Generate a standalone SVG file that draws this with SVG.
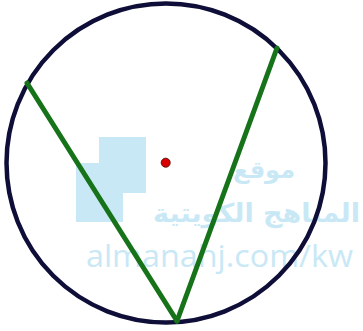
<svg xmlns="http://www.w3.org/2000/svg" width="363" height="331" viewBox="0 0 363 331">
<style>
.wm{fill:#c9e8f6}
.chord{stroke:#17731a;stroke-width:5;stroke-linecap:round;fill:none}
</style>
<rect width="363" height="331" fill="#ffffff"/>
<g id="watermark">
<rect class="wm" x="99" y="137" width="47" height="56"/>
<rect class="wm" x="76" y="163" width="47" height="59"/>
<text class="wm" x="295" y="178" text-anchor="end" font-family="DejaVu Sans, sans-serif" font-weight="bold" font-size="24">موقع</text>
<text class="wm" x="153" y="222" font-family="DejaVu Sans, sans-serif" font-weight="bold" font-size="26" textLength="207" lengthAdjust="spacingAndGlyphs">المناهج الكويتية</text>
<text class="wm" x="86" y="267" font-family="Open Sans, sans-serif" font-size="31" textLength="267" lengthAdjust="spacingAndGlyphs">almanahj.com/kw</text>
</g>
<g id="circle">
<circle cx="166" cy="163" r="159.5" fill="none" stroke="#0e0e38" stroke-width="4.5"/>
</g>
<g id="connectors">
<line class="chord" x1="27" y1="83" x2="177" y2="321"/>
<line class="chord" x1="277" y1="48" x2="177" y2="321"/>
</g>
<g id="center">
<circle cx="165.7" cy="162.7" r="4.5" fill="#d80000" stroke="#6a1010" stroke-width="1"/>
</g>
</svg>
